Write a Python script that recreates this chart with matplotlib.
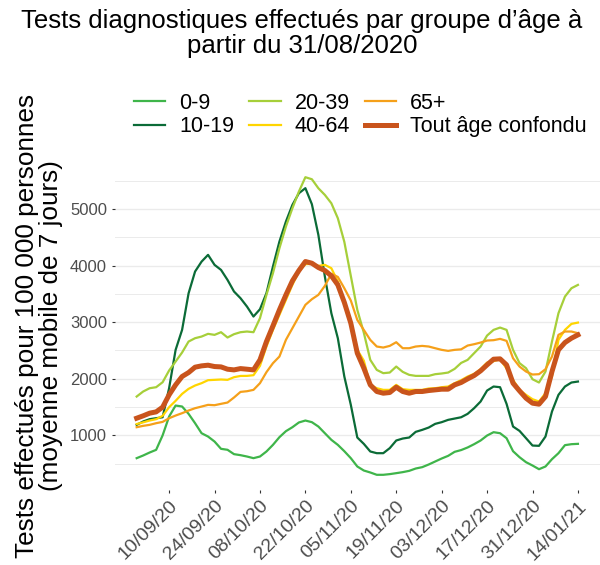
import numpy as np
import pandas as pd
import matplotlib
matplotlib.use('Agg')
import matplotlib.pyplot as plt
import matplotlib.dates as mdates

plt.rcParams['font.family'] = ['Liberation Sans', 'DejaVu Sans']

# 7-day moving average, one value read every 2 days (31/08/2020 -> 14/01/2021)
dates = pd.date_range('2020-08-31', '2021-01-14', freq='2D')

age_0_9 = [597, 644, 697, 744, 1000, 1333, 1527, 1510, 1380, 1215, 1038, 979, 891, 762,
           745, 668, 650, 626, 597, 626, 715, 832, 968, 1074, 1144, 1228, 1262, 1233,
           1156, 1038, 921, 832, 720, 597, 450, 379, 344, 303, 303, 315, 332, 350, 373,
           414, 438, 485, 538, 591, 638, 709, 740, 786, 844, 909, 997, 1056, 1038, 950,
           720, 614, 526, 467, 402, 450, 579, 685, 827, 844, 850]
age_10_19 = [1186, 1245, 1286, 1303, 1320, 1834, 2510, 2864, 3510, 3895, 4070, 4190, 4013,
             3924, 3747, 3542, 3424, 3276, 3100, 3229, 3513, 3983, 4425, 4778, 5073, 5279,
             5368, 5085, 4543, 3807, 3159, 2717, 2040, 1540, 962, 850, 715, 685, 685, 774,
             909, 944, 962, 1062, 1097, 1138, 1203, 1233, 1274, 1297, 1320, 1380, 1480,
             1598, 1792, 1863, 1851, 1557, 1156, 1079, 950, 820, 815, 979, 1421, 1716, 1863,
             1934, 1951]
age_20_39 = [1686, 1775, 1833, 1851, 1939, 2146, 2304, 2464, 2658, 2717, 2746, 2794, 2776,
             2823, 2729, 2788, 2823, 2835, 2823, 3070, 3482, 3865, 4307, 4690, 5014, 5308,
             5562, 5526, 5367, 5249, 5102, 4837, 4420, 3818, 3218, 2816, 2334, 2157, 2099,
             2110, 2216, 2122, 2069, 2051, 2051, 2051, 2081, 2093, 2110, 2175, 2280, 2334,
             2452, 2570, 2764, 2864, 2905, 2864, 2511, 2276, 2187, 1992, 1934, 2128, 2658,
             3159, 3453, 3600, 3659]
age_40_64 = [1200, 1230, 1262, 1286, 1345, 1498, 1610, 1733, 1822, 1881, 1922, 1975, 1981,
             1987, 1981, 2028, 2050, 2051, 2063, 2228, 2570, 2864, 3130, 3394, 3660, 3895,
             4025, 4031, 3995, 4013, 3954, 3718, 3350, 3011, 2511, 2322, 1892, 1833, 1804,
             1804, 1892, 1816, 1804, 1804, 1804, 1828, 1833, 1851, 1863, 1922, 1975, 2040,
             2087, 2170, 2287, 2311, 2346, 2181, 1981, 1804, 1716, 1639, 1598, 1745, 2040,
             2688, 2864, 2970, 2993]
age_65 = [1144, 1168, 1186, 1215, 1238, 1303, 1350, 1392, 1439, 1480, 1509, 1539, 1533,
          1557, 1580, 1669, 1768, 1780, 1804, 1922, 2117, 2275, 2393, 2688, 2894, 3100,
          3306, 3406, 3483, 3642, 3854, 3800, 3600, 3383, 3040, 2864, 2687, 2570, 2552,
          2581, 2646, 2540, 2540, 2570, 2581, 2570, 2540, 2511, 2493, 2511, 2520, 2587,
          2611, 2640, 2676, 2682, 2705, 2670, 2363, 2216, 2128, 2075, 2081, 2169, 2393,
          2776, 2835, 2835, 2805]
tout_age = [1303, 1345, 1392, 1415, 1498, 1716, 1892, 2040, 2110, 2205, 2228, 2240, 2216,
            2210, 2169, 2157, 2180, 2169, 2157, 2334, 2658, 2935, 3218, 3483, 3730, 3913,
            4072, 4042, 3966, 3913, 3819, 3659, 3350, 2982, 2452, 2190, 1892, 1775, 1745,
            1757, 1851, 1775, 1745, 1775, 1775, 1792, 1804, 1816, 1816, 1892, 1934, 1998,
            2057, 2140, 2246, 2346, 2352, 2246, 1922, 1786, 1657, 1569, 1551, 1686, 2128,
            2511, 2640, 2717, 2776]

series = [
    ('0-9', age_0_9, '#3fb54a', 1.6),
    ('10-19', age_10_19, '#0b6b37', 1.6),
    ('20-39', age_20_39, '#a6cf3a', 1.6),
    ('40-64', age_40_64, '#ffd500', 1.6),
    ('65+', age_65, '#f5a01a', 1.6),
    ('Tout âge confondu', tout_age, '#c9541c', 3.6),
]

fig = plt.figure(figsize=(6, 5.65), dpi=100)
ax = fig.add_axes([0.191, 0.133, 0.809, 0.5805])

for name, vals, col, lw in series:
    ax.plot(dates, vals, color=col, lw=lw, label=name)

# limits with ggplot-like expansion
span = dates[-1] - dates[0]
ax.set_xlim(dates[0] - span * 0.05, dates[-1] + span * 0.05)
ax.set_ylim(37, 5833)

ticks = pd.date_range('2020-09-10', '2021-01-14', freq='14D')
ax.set_xticks(ticks)
ax.xaxis.set_major_formatter(mdates.DateFormatter('%d/%m/%y'))
ax.set_yticks([1000, 2000, 3000, 4000, 5000])
ax.set_yticks([500, 1500, 2500, 3500, 4500, 5500], minor=True)

ax.grid(axis='y', which='major', color='#ebebeb', lw=1.0)
ax.grid(axis='y', which='minor', color='#ebebeb', lw=0.7)
ax.set_axisbelow(True)
for s in ax.spines.values():
    s.set_visible(False)

ax.tick_params(axis='both', which='major', length=2.5, color='#333333',
               labelcolor='#4d4d4d')
ax.tick_params(axis='y', which='major', labelsize=12, pad=3)
ax.tick_params(axis='y', which='minor', length=0)
ax.tick_params(axis='x', labelsize=14, pad=3)
for lab in ax.get_xticklabels():
    lab.set_rotation(45)
    lab.set_ha('right')
    lab.set_va('top')
    lab.set_rotation_mode('anchor')

fig.text(0.065, 0.423, 'Tests effectués pour 100 000 personnes\n(moyenne mobile de 7 jours)',
         rotation=90, ha='center', va='center', fontsize=18.8, linespacing=1.0)

fig.text(0.503, 0.94, 'Tests diagnostiques effectués par groupe d’âge à\npartir du 31/08/2020',
         ha='center', va='center', fontsize=18.5, linespacing=1.05)

fig.legend(loc='center', bbox_to_anchor=(0.601, 1 - 115 / 565), ncol=3, frameon=False,
           fontsize=15.5, handlelength=1.45, handletextpad=0.65, columnspacing=0.7,
           labelspacing=0.1, borderpad=0)

fig.savefig('out.png', dpi=100)
